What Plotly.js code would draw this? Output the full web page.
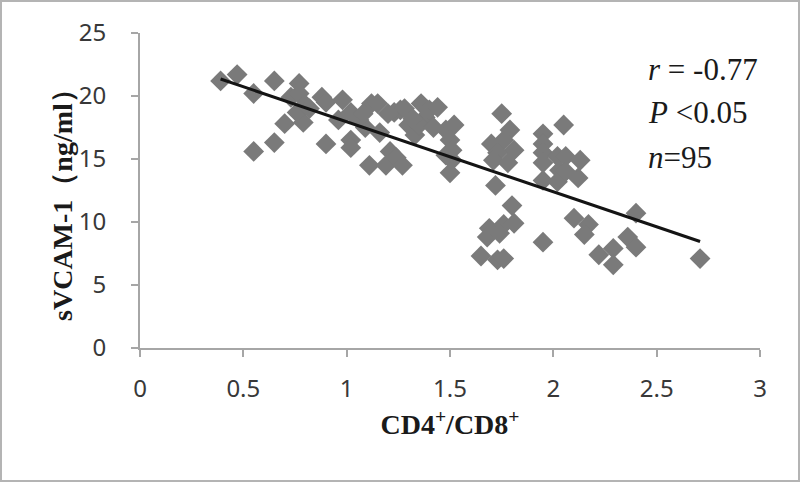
<!DOCTYPE html>
<html>
<head>
<meta charset="utf-8">
<script src="https://cdn.plot.ly/plotly-3.0.1.min.js"></script>
<style>
  html, body { margin: 0; padding: 0; background: #fff; }
  #wrap { position: relative; width: 800px; height: 482px; }
  #frame { position: absolute; left: 0; top: 0; width: 800px; height: 482px;
           box-sizing: border-box; border: 2px solid #b4b4b4; pointer-events: none; }
</style>
</head>
<body>
<div id="wrap">
  <div id="chart" style="width:800px;height:482px;"></div>
  <div id="frame"></div>
</div>
<script>
// CD4+/CD8+ ratio for each patient
const ratio = [
  0.39, 0.47, 0.55, 0.55, 0.65, 0.65, 0.70, 0.73, 0.77, 0.77,
  0.79, 0.80, 0.76, 0.88, 0.90, 0.90, 0.98, 0.96, 1.02, 1.02,
  1.02, 1.06, 1.09, 1.12, 1.15, 1.11, 1.16, 1.21, 1.19, 1.24,
  1.27, 1.23, 1.26, 1.28, 1.30, 1.33, 1.36, 1.38, 1.35, 1.40,
  1.44, 1.48, 1.48, 1.51, 1.50, 1.52, 1.50, 1.51,
  1.75, 1.79, 1.70, 1.76, 1.81, 1.73, 1.71, 1.78, 1.72, 1.80,
  1.69, 1.76, 1.81, 1.68, 1.74, 1.65, 1.73, 1.76,
  2.05, 1.95, 1.95, 1.95, 1.95, 1.95, 2.02, 2.03, 2.02, 1.95,
  2.06, 2.13, 2.12, 2.06, 2.10, 2.17, 2.15, 2.22, 2.29, 2.29,
  2.36, 2.40, 2.40, 2.71,
  1.32, 1.20, 1.42, 1.08, 0.82
];

// sVCAM-1 (ng/ml) for each patient
const svcam = [
  21.2, 21.7, 20.2, 15.6, 21.2, 16.3, 17.8, 19.9, 21.0, 20.2,
  17.9, 19.3, 18.7, 19.9, 19.5, 16.2, 19.7, 18.1, 16.5, 15.9,
  18.7, 18.1, 17.5, 19.4, 19.4, 14.5, 17.1, 15.6, 14.5, 15.1,
  14.5, 18.7, 18.9, 19.0, 17.7, 16.9, 19.4, 18.3, 17.7, 18.9,
  19.1, 17.3, 15.3, 14.9, 13.9, 17.7, 16.5, 15.7,
  18.6, 17.3, 16.2, 16.5, 15.7, 15.5, 14.9, 14.7, 12.9, 11.3,
  9.5, 9.8, 9.9, 8.8, 9.1, 7.3, 7.0, 7.1,
  17.7, 17.0, 16.2, 15.5, 14.7, 13.3, 15.2, 14.1, 13.2, 8.4,
  15.2, 14.9, 13.5, 14.0, 10.3, 9.8, 9.0, 7.4, 7.9, 6.6,
  8.8, 8.0, 10.7, 7.1,
  18.2, 18.6, 17.5, 18.6, 19.0
];

// trend line end points
const fitX = [0.39, 2.71];
const fitY = [21.35, 8.45];

const stats = ["<i>r</i> = -0.77", "<i>P</i> &lt;0.05", "<i>n</i>=95"];
const statsY = [22.1, 18.7, 15.1];

const points = {
  x: ratio,
  y: svcam,
  type: "scatter",
  mode: "markers",
  marker: { symbol: "diamond", size: 16, color: "#7a7a7a" },
  hoverinfo: "skip"
};

const fitted = {
  x: fitX,
  y: fitY,
  type: "scatter",
  mode: "lines",
  line: { color: "#141414", width: 3 },
  hoverinfo: "skip"
};

const tickFont = { family: "Noto Sans, sans-serif", size: 24, color: "#383838" };
const titleFont = { family: "Liberation Serif, serif", size: 28, color: "#1a1a1a", weight: "bold" };

// stats text block in the upper right
const notes = stats.map((t, i) => ({
  x: 2.45,
  y: statsY[i],
  xref: "x",
  yref: "y",
  xanchor: "left",
  yanchor: "middle",
  showarrow: false,
  text: t,
  font: { family: "Liberation Serif, serif", size: 31, color: "#1a1a1a" }
}));

// y axis title drawn as a rotated note so it sits closer to the tick labels
notes.push({
  x: -0.126,
  y: 0.476,
  xref: "paper",
  yref: "paper",
  xanchor: "center",
  yanchor: "middle",
  textangle: -90,
  showarrow: false,
  text: "sVCAM-1（ng/ml）",
  font: titleFont
});

const layout = {
  width: 800,
  height: 482,
  margin: { l: 140, r: 40, t: 33, b: 134 },
  paper_bgcolor: "#fff",
  plot_bgcolor: "#fff",
  showlegend: false,
  xaxis: {
    range: [0, 3],
    tickvals: [0, 0.5, 1, 1.5, 2, 2.5, 3],
    ticktext: ["0", "0.5", "1", "1.5", "2", "2.5", "3"],
    showgrid: false,
    zeroline: false,
    showline: true,
    linecolor: "#a6a6a6",
    linewidth: 2,
    ticks: "outside",
    ticklen: 7,
    tickwidth: 2,
    tickcolor: "#a6a6a6",
    ticklabelstandoff: 11,
    tickfont: tickFont,
    title: { text: "CD4<sup>+</sup>/CD8<sup>+</sup>", font: titleFont, standoff: 12 }
  },
  yaxis: {
    range: [0, 25],
    tickvals: [0, 5, 10, 15, 20, 25],
    showgrid: false,
    zeroline: false,
    showline: true,
    linecolor: "#a6a6a6",
    linewidth: 2,
    ticks: "outside",
    ticklen: 7,
    tickwidth: 2,
    tickcolor: "#a6a6a6",
    ticklabelstandoff: 20,
    tickfont: tickFont
  },
  annotations: notes
};

Plotly.newPlot("chart", [points, fitted], layout, { staticPlot: true, displayModeBar: false });
</script>
</body>
</html>
